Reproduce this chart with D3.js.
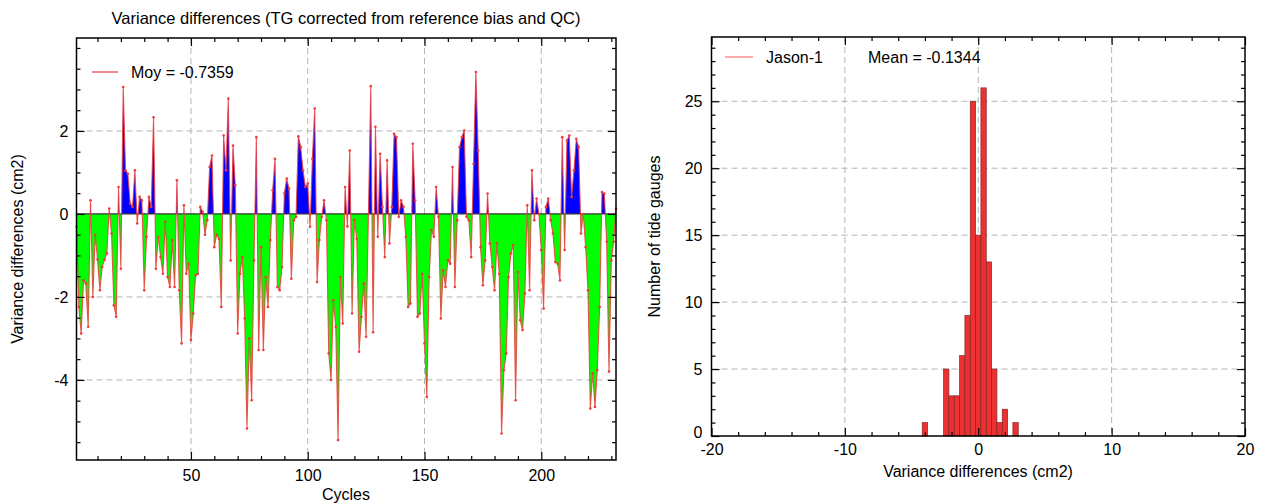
<!DOCTYPE html>
<html><head><meta charset="utf-8">
<script src="https://cdn.jsdelivr.net/npm/d3@7"></script>
<style>
html,body{margin:0;padding:0;background:#fff;}
svg text{font-family:"Liberation Sans",Arial,Helvetica,sans-serif;fill:#000;}
</style></head>
<body><svg id="c" width="1265" height="504"></svg>
<script>
// ---------- DATA ----------
const firstCycle = 1;
const variance = [
-0.31,-2.24,-2.88,-1.6,-1.68,-2.72,0.33,-2.0,-0.5,-1.1,
-1.84,-1.28,-1.1,-0.95,0.13,-0.47,-2.2,-2.48,0.65,-1.32,
3.06,1.05,0.97,0.25,0.17,1.05,-0.23,0.41,0.33,-1.84,
-0.55,0.41,0.17,2.33,-1.32,-0.55,-1.04,-1.44,-0.19,-1.52,
-1.76,-0.63,-1.76,0.81,-1.84,-3.12,0.21,-1.44,-1.2,-3.04,
-2.4,-1.48,-1.44,0.17,0.05,-0.5,-0.15,1.13,1.41,-0.8,
-0.5,-0.6,-2.24,1.89,1.05,2.78,-1.12,1.65,0.69,-2.88,
-1.44,-1.04,-2.52,-5.17,-3.0,-4.49,-1.12,1.85,-3.28,-0.8,
-3.28,-1.52,-2.24,-0.63,0.57,1.33,-1.76,-1.84,-1.28,0.49,
0.85,0.61,-1.56,-0.15,-0.07,1.87,1.61,1.05,0.65,0.73,
-0.31,1.33,2.54,-1.64,-0.63,-0.07,0.33,-0.15,-3.36,-4.0,
-2.08,-2.72,-5.45,-1.52,-2.64,0.65,-0.3,1.53,-2.4,-0.15,
-0.6,-3.32,-2.48,-1.68,-2.96,0.0,3.08,-2.85,2.1,-0.55,
1.45,0.17,-1.04,1.29,-0.71,0.17,1.93,1.85,-0.07,0.33,
0.17,-0.55,-2.24,-2.16,1.69,0.33,-2.48,-2.4,-1.44,-3.12,
-4.41,-1.52,-0.39,-0.55,0.65,-0.07,-2.52,-1.36,-1.76,-1.12,
-1.2,1.13,-1.76,-0.15,1.61,1.85,2.01,-0.07,-0.15,-1.04,
1.21,3.42,1.53,-0.8,-1.72,-1.12,0.49,-0.71,-1.28,-1.84,
-0.71,-1.44,-5.29,-3.76,-3.36,-1.52,-0.95,-0.75,-4.49,-1.4,
-2.56,-2.8,-1.92,0.21,-1.84,1.05,-0.15,0.37,0.0,-0.87,
-2.28,0.17,0.37,-0.15,-0.47,-1.16,-1.2,-1.6,1.85,-0.87,
1.77,1.89,0.41,1.05,1.81,1.61,-0.47,0.0,-0.8,-1.84,
-4.69,-3.84,-4.65,-3.76,-2.24,0.53,0.49,-0.67,-3.8,-1.12,
-0.67,0.13];
const cycles = variance.map((v,i)=>firstCycle+i);
const meanLeftLabel = "Moy = -0.7359";

const binStarts = [-4.2,-3.8,-3.4,-3.0,-2.6,-2.2,-1.8,-1.4,-1.0,-0.6,-0.2,0.2,0.6,1.0,1.4,1.8,2.2,2.6];
const binCounts = [1,0,0,0,5,3,3,6,9,25,15,26,13,5,1,2,0,1];
const binWidth = 0.4;
const histLegend = "Jason-1";
const histMeanLabel = "Mean = -0.1344";

const leftXTicks = [50,100,150,200];
const leftYTicks = [-4,-2,0,2];
const rightXTicks = [-20,-10,0,10,20];
const rightYTicks = [0,5,10,15,20,25];

// ---------- DRAW ----------
const svg = d3.select("#c");
const F = 16;
const fmt = d => String(d);

// ===== LEFT PANEL =====
const L = {l:76.5, r:616, t:38, b:460};
const x1 = d3.scaleLinear().domain([1,232]).range([L.l, L.r]);
const y1 = d3.scaleLinear().domain([-5.93,4.24]).range([L.b, L.t]);
const gL = svg.append("g");
const defs = svg.append("defs");
defs.append("clipPath").attr("id","above").append("rect")
  .attr("x",L.l).attr("y",L.t).attr("width",L.r-L.l).attr("height",y1(0)-L.t);
defs.append("clipPath").attr("id","below").append("rect")
  .attr("x",L.l).attr("y",y1(0)).attr("width",L.r-L.l).attr("height",L.b-y1(0));

// grid
const grid = "#b4b4b4";
gL.selectAll(".vg").data(leftXTicks).enter().append("line")
  .attr("x1",d=>x1(d)).attr("x2",d=>x1(d)).attr("y1",L.t).attr("y2",L.b)
  .attr("stroke",grid).attr("stroke-dasharray","6,4").attr("stroke-width",1);
gL.selectAll(".hg").data(leftYTicks.filter(d=>d!==0)).enter().append("line")
  .attr("y1",d=>y1(d)).attr("y2",d=>y1(d)).attr("x1",L.l).attr("x2",L.r)
  .attr("stroke",grid).attr("stroke-dasharray","6,4").attr("stroke-width",1);

const pts = cycles.map((c,i)=>[c,variance[i]]);
const area = d3.area().x(d=>x1(d[0])).y0(y1(0)).y1(d=>y1(d[1]));
gL.append("path").datum(pts).attr("d",area).attr("fill","#0000ff").attr("clip-path","url(#above)");
gL.append("path").datum(pts).attr("d",area).attr("fill","#00ff00").attr("clip-path","url(#below)");
gL.append("line").attr("x1",L.l).attr("x2",L.r).attr("y1",y1(0)).attr("y2",y1(0))
  .attr("stroke","#333").attr("stroke-width",1.2);
const line = d3.line().x(d=>x1(d[0])).y(d=>y1(d[1]));
gL.append("path").datum(pts).attr("d",line).attr("fill","none")
  .attr("stroke","#f03a3a").attr("stroke-opacity",0.85).attr("stroke-width",1.1);
gL.selectAll(".pt").data(pts).enter().append("circle")
  .attr("cx",d=>x1(d[0])).attr("cy",d=>y1(d[1])).attr("r",1.3).attr("fill","#f03a3a");

// axes (inward ticks, mirrored)
function axisStyle(g){ g.selectAll(".domain").remove(); g.selectAll("line").attr("stroke","#000").attr("stroke-width",1.2);
  g.selectAll("text").style("font-size",F+"px").style("font-family","Liberation Sans, Arial, sans-serif"); }
const minorX1 = d3.range(10,232,10).filter(d=>!leftXTicks.includes(d));
const minorY1 = d3.range(-5.5,4.2,0.5).filter(d=>!leftYTicks.includes(d));
svg.append("g").attr("transform",`translate(0,${L.b})`).call(d3.axisBottom(x1).tickValues(leftXTicks).tickSize(-8).tickPadding(10).tickFormat(fmt)).call(axisStyle);
svg.append("g").attr("transform",`translate(0,${L.b})`).call(d3.axisBottom(x1).tickValues(minorX1).tickSize(-4).tickFormat("")).call(axisStyle);
svg.append("g").attr("transform",`translate(0,${L.t})`).call(d3.axisTop(x1).tickValues(leftXTicks).tickSize(-8).tickFormat("")).call(axisStyle);
svg.append("g").attr("transform",`translate(0,${L.t})`).call(d3.axisTop(x1).tickValues(minorX1).tickSize(-4).tickFormat("")).call(axisStyle);
svg.append("g").attr("transform",`translate(${L.l},0)`).call(d3.axisLeft(y1).tickValues(leftYTicks).tickSize(-8).tickPadding(8).tickFormat(fmt)).call(axisStyle);
svg.append("g").attr("transform",`translate(${L.l},0)`).call(d3.axisLeft(y1).tickValues(minorY1).tickSize(-4).tickFormat("")).call(axisStyle);
svg.append("g").attr("transform",`translate(${L.r},0)`).call(d3.axisRight(y1).tickValues(leftYTicks).tickSize(-8).tickFormat("")).call(axisStyle);
svg.append("g").attr("transform",`translate(${L.r},0)`).call(d3.axisRight(y1).tickValues(minorY1).tickSize(-4).tickFormat("")).call(axisStyle);
svg.append("rect").attr("x",L.l).attr("y",L.t).attr("width",L.r-L.l).attr("height",L.b-L.t)
  .attr("fill","none").attr("stroke","#000").attr("stroke-width",1.5);

// legend & titles
svg.append("line").attr("x1",92).attr("x2",118).attr("y1",72).attr("y2",72).attr("stroke","#f03a3a").attr("stroke-width",1.2);
svg.append("text").attr("x",131).attr("y",78).style("font-size",F+"px").text(meanLeftLabel);
svg.append("text").attr("x",346).attr("y",24).attr("text-anchor","middle").style("font-size","16.5px")
  .text("Variance differences (TG corrected from reference bias and QC)");
svg.append("text").attr("x",346).attr("y",500).attr("text-anchor","middle").style("font-size",F+"px").text("Cycles");
svg.append("text").attr("transform",`translate(23,${(L.t+L.b)/2}) rotate(-90)`).attr("text-anchor","middle")
  .style("font-size",F+"px").text("Variance differences (cm2)");

// ===== RIGHT PANEL =====
const R = {l:711.5, r:1245, t:37, b:436};
const x2 = d3.scaleLinear().domain([-20,20]).range([R.l,R.r]);
const y2 = d3.scaleLinear().domain([0,29.8]).range([R.b,R.t]);
const gR = svg.append("g");
gR.selectAll(".vg").data(rightXTicks.filter(d=>d>-20&&d<20)).enter().append("line")
  .attr("x1",d=>x2(d)).attr("x2",d=>x2(d)).attr("y1",R.t).attr("y2",R.b)
  .attr("stroke",grid).attr("stroke-dasharray","6,4");
gR.selectAll(".hg").data(rightYTicks.filter(d=>d>0)).enter().append("line")
  .attr("y1",d=>y2(d)).attr("y2",d=>y2(d)).attr("x1",R.l).attr("x2",R.r)
  .attr("stroke",grid).attr("stroke-dasharray","6,4");
const bins = binStarts.map((s,i)=>({x0:s,x1:s+binWidth,n:binCounts[i]})).filter(d=>d.n>0);
gR.selectAll(".bar").data(bins).enter().append("rect")
  .attr("x",d=>x2(d.x0)).attr("width",d=>x2(d.x1)-x2(d.x0))
  .attr("y",d=>y2(d.n)).attr("height",d=>y2(0)-y2(d.n))
  .attr("fill","#ee3030").attr("stroke","#7a2a2a").attr("stroke-width",0.7);

const minorX2 = d3.range(-18,20,2).filter(d=>!rightXTicks.includes(d));
const minorY2 = d3.range(1,30,1).filter(d=>!rightYTicks.includes(d));
svg.append("g").attr("transform",`translate(0,${R.b})`).call(d3.axisBottom(x2).tickValues(rightXTicks).tickSize(-8).tickPadding(8).tickFormat(fmt)).call(axisStyle);
svg.append("g").attr("transform",`translate(0,${R.b})`).call(d3.axisBottom(x2).tickValues(minorX2).tickSize(-4).tickFormat("")).call(axisStyle);
svg.append("g").attr("transform",`translate(0,${R.t})`).call(d3.axisTop(x2).tickValues(rightXTicks).tickSize(-8).tickFormat("")).call(axisStyle);
svg.append("g").attr("transform",`translate(0,${R.t})`).call(d3.axisTop(x2).tickValues(minorX2).tickSize(-4).tickFormat("")).call(axisStyle);
const yAxR = svg.append("g").attr("transform",`translate(${R.l},0)`).call(d3.axisLeft(y2).tickValues(rightYTicks).tickSize(-8).tickPadding(9).tickFormat(fmt)).call(axisStyle);
yAxR.selectAll(".tick text").filter(d=>d===0).attr("dy","0.1em");
svg.append("g").attr("transform",`translate(${R.l},0)`).call(d3.axisLeft(y2).tickValues(minorY2).tickSize(-4).tickFormat("")).call(axisStyle);
svg.append("g").attr("transform",`translate(${R.r},0)`).call(d3.axisRight(y2).tickValues(rightYTicks).tickSize(-8).tickFormat("")).call(axisStyle);
svg.append("g").attr("transform",`translate(${R.r},0)`).call(d3.axisRight(y2).tickValues(minorY2).tickSize(-4).tickFormat("")).call(axisStyle);
svg.append("rect").attr("x",R.l).attr("y",R.t).attr("width",R.r-R.l).attr("height",R.b-R.t)
  .attr("fill","none").attr("stroke","#000").attr("stroke-width",1.5);

svg.append("line").attr("x1",725).attr("x2",753).attr("y1",57).attr("y2",57).attr("stroke","#ff7a7a").attr("stroke-width",1.3);
svg.append("text").attr("x",766).attr("y",63).style("font-size",F+"px").text(histLegend);
svg.append("text").attr("x",868).attr("y",63).style("font-size",F+"px").text(histMeanLabel);
svg.append("text").attr("x",978).attr("y",477).attr("text-anchor","middle").style("font-size",F+"px").text("Variance differences (cm2)");
svg.append("text").attr("transform",`translate(660,${(R.t+R.b)/2}) rotate(-90)`).attr("text-anchor","middle")
  .style("font-size",F+"px").text("Number of tide gauges");
</script></body></html>
